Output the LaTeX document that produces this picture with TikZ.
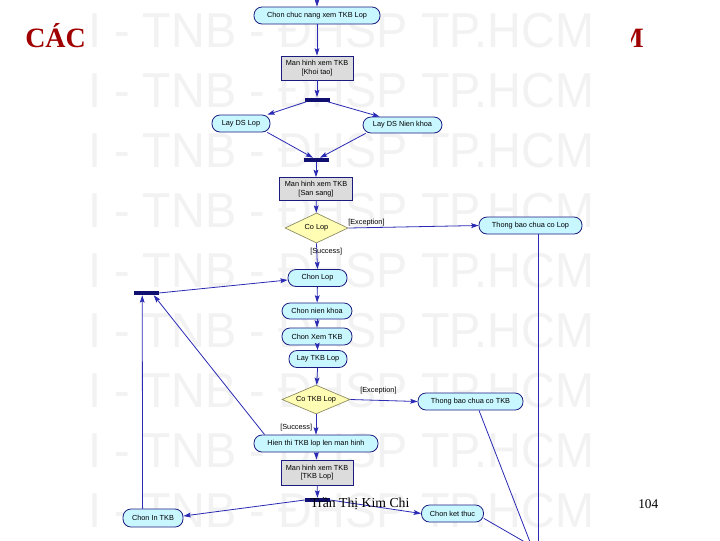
\documentclass[tikz,border=0pt]{standalone}
\usepackage{fontspec}
\setmainfont{Liberation Serif}
\newfontfamily\diafont{Liberation Sans}
\usetikzlibrary{shapes.geometric,arrows.meta,calc}
\definecolor{linecol}{HTML}{2A2AB4}
\definecolor{bordercol}{HTML}{1C1C80}
\definecolor{actfill}{HTML}{C8F7FF}
\definecolor{scrfill}{HTML}{DCDCDC}
\definecolor{decfill}{HTML}{FFFCB4}
\definecolor{decborder}{HTML}{8A8A60}
\definecolor{barcol}{HTML}{101070}
\definecolor{titlered}{HTML}{A00000}
\definecolor{wmark}{HTML}{F2F2F2}
\begin{document}
\begin{tikzpicture}[x=0.75pt,y=-0.75pt,
  dfont/.style={font=\diafont\fontsize{5.5}{6.6}\selectfont},
  act/.style={dfont, draw=bordercol, line width=0.6pt, fill=actfill, rounded corners=6pt, inner sep=0pt, align=center},
  scr/.style={dfont, draw=bordercol, line width=0.6pt, fill=scrfill, inner sep=0pt, align=center},
  dec/.style={dfont, draw=decborder, line width=0.5pt, fill=decfill, diamond, inner sep=0pt, shape aspect=2.1},
  syncbar/.style={fill=barcol, inner sep=0pt, minimum width=18.75pt, minimum height=3pt},
  arr/.style={draw=linecol, line width=0.6pt, -{Stealth[length=5.5pt,width=3.6pt,inset=1pt]}},
  plain/.style={draw=linecol, line width=0.6pt},
  guard/.style={dfont, inner sep=0pt, anchor=west},
  wm/.style={font=\diafont\fontsize{36.75}{40}\selectfont, text=wmark, inner sep=0pt, anchor=base west}
]
\clip (0,0) rectangle (720,540);
\fill[white] (0,0) rectangle (720,540);

% watermark
\foreach \k in {0,...,8}{
  \node[wm] (wm\k) at (88,47.5+60*\k) {\scalebox{0.955}[1]{I - TNB - ĐHSP TP.HCM}};
}

% title fragments
\node[anchor=base west, inner sep=0pt, text=titlered, font=\bfseries\fontsize{21}{24}\selectfont] (title) at (25,47) {CÁC};
\begin{scope}
  \clip (631,0) rectangle (720,60);
  \node[anchor=base east, inner sep=0pt, text=titlered, font=\bfseries\fontsize{21}{24}\selectfont] (titleM) at (644,47) {M};
\end{scope}

% nodes
\node[act, minimum width=94.5pt, minimum height=12.75pt] (n1) at (317,15.5) {Chon chuc nang xem TKB Lop};
\node[scr, minimum width=54pt, minimum height=18pt] (r1) at (317,68) {Man hinh xem TKB\\{}[Khoi tao]};
\node[syncbar] (b1) at (317,99.5) {};
\node[act, minimum width=43.5pt, minimum height=12.75pt] (n2) at (241,123.5) {Lay DS Lop};
\node[act, minimum width=59.25pt, minimum height=12pt] (n3) at (402.5,125) {Lay DS Nien khoa};
\node[syncbar] (b2) at (316,160) {};
\node[scr, minimum width=54.75pt, minimum height=17.25pt] (r2) at (316,189) {Man hinh xem TKB\\{}[San sang]};
\node[dec, minimum width=47.25pt, minimum height=22.5pt] (d1) at (316.5,228) {Co Lop};
\node[act, minimum width=77.25pt, minimum height=12.75pt] (n4) at (530.5,225.5) {Thong bao chua co Lop};
\node[act, minimum width=44.25pt, minimum height=12.75pt] (n5) at (317.5,278) {Chon Lop};
\node[syncbar] (b3) at (146,293) {};
\node[act, minimum width=52.5pt, minimum height=12pt] (n6) at (317,311) {Chon nien khoa};
\node[act, minimum width=52.5pt, minimum height=12.75pt] (n7) at (317,336.5) {Chon Xem TKB};
\node[act, minimum width=43.5pt, minimum height=12.75pt] (n8) at (318,359) {Lay TKB Lop};
\node[dec, minimum width=51pt, minimum height=21.75pt] (d2) at (316,399.5) {Co TKB Lop};
\node[act, minimum width=78.75pt, minimum height=12.75pt] (n9) at (470.5,401.5) {Thong bao chua co TKB};
\node[act, minimum width=93pt, minimum height=12.75pt] (n10) at (316,443.5) {Hien thi TKB lop len man hinh};
\node[scr, minimum width=54pt, minimum height=18.75pt] (r3) at (317,472.5) {Man hinh xem TKB\\{}[TKB Lop]};
\node[syncbar] (b4) at (317.5,500) {};
\node[act, minimum width=45pt, minimum height=13.5pt] (n11) at (153,518) {Chon In TKB};
\node[act, minimum width=46.5pt, minimum height=12.75pt] (n12) at (452.5,513.5) {Chon ket thuc};

% free ends
\coordinate (top) at (317,-5);
\coordinate (endA) at (538,560);
\coordinate (endB) at (537,560);
\coordinate (endC) at (556,560);

% connectors
\draw[arr] (top) -- (n1);
\draw[arr] (n1) -- (r1);
\draw[arr] (r1) -- (b1);
\draw[arr] ($(b1.south west)+(2,0)$) -- ($(n2.north east)+(-3,0)$);
\draw[arr] ($(b1.south east)+(-2,0)$) -- ($(n3.north west)+(17,0)$);
\draw[arr] ($(n2.south east)+(-3,0)$) -- ($(b2.north)+(-3,0)$);
\draw[arr] ($(n3.south west)+(3,0)$) -- ($(b2.north)+(4,0)$);
\draw[arr] (b2) -- (r2);
\draw[arr] (r2) -- (d1);
\draw[arr] (d1.east) -- (n4.west);
\node[guard] (g1) at (348,223) {[Exception]};
\draw[arr] (d1.south) -- (n5.north);
\node[guard] (g2) at (310,252) {[Success]};
\draw[arr] (b3.east) -- ($(n5.west)+(0,2)$);
\draw[arr] (n5) -- (n6);
\draw[arr] (n6) -- (n7);
\draw[arr] (n7) -- (n8);
\draw[arr] (n8) -- (d2);
\draw[arr] (d2.east) -- (n9.west);
\node[guard] (g3) at (360,391) {[Exception]};
\draw[arr] (d2.south) -- (n10.north);
\node[guard] (g4) at (280,428) {[Success]};
\draw[arr] (n10) -- (r3);
\draw[arr] (r3) -- (b4);
\draw[arr] (b4.west) -- ($(n11.east)+(0,-2)$);
\draw[arr] (b4.east) -- (n12.west);
\draw[arr] ($(n11.north west)+(20,0)$) -- ($(b3.south west)+(9,0)$);
\draw[arr] ($(n10.north west)+(11,0)$) -- ($(b3.south east)+(-5,0)$);
\draw[plain] ($(n4.south)+(7.5,0)$) -- (endA);
\draw[plain] ($(n9.south)+(8.5,0)$) -- (endB);
\draw[plain] ($(n12.south east)+(0,-4)$) -- (endC);

% footer
\node[anchor=base west, inner sep=0pt, font=\fontsize{10.3}{12}\selectfont] (author) at (310,507) {Trần Thị Kim Chi};
\node[anchor=base west, inner sep=0pt, font=\fontsize{10}{12}\selectfont] (page) at (638,508) {104};
\end{tikzpicture}
\end{document}
